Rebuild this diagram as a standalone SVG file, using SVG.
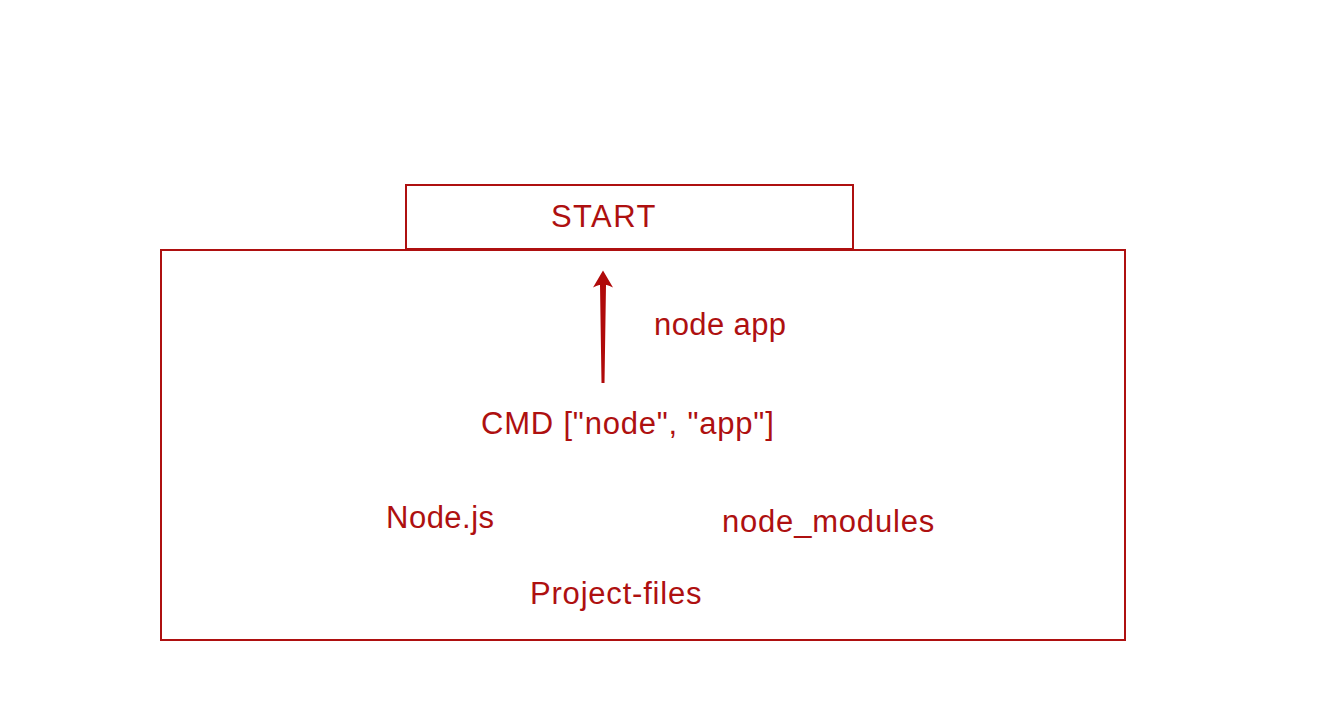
<svg xmlns="http://www.w3.org/2000/svg" width="1343" height="702" viewBox="0 0 1343 702">
<style>
.box{fill:#fff;stroke:#AE1010;stroke-width:2}
.lbl{fill:#AE1010;font-family:"Liberation Sans",Arial,sans-serif;font-size:31px;letter-spacing:0.8px}
.arr{fill:#B00A0A;stroke:none}
</style>
<rect x="0" y="0" width="1343" height="702" fill="#fff"/>
<g id="container">
<rect class="box" x="161" y="250" width="964" height="390"/>
</g>
<g id="start">
<rect class="box" x="406" y="185" width="447" height="64"/>
<text class="lbl" x="551" y="227" style="letter-spacing:1.4px">START</text>
</g>
<g id="cmd">
<text class="lbl" x="481" y="434">CMD ["node", "app"]</text>
</g>
<g id="nodejs">
<text class="lbl" x="386" y="528" style="letter-spacing:0.5px">Node.js</text>
</g>
<g id="node_modules">
<text class="lbl" x="722" y="532">node_modules</text>
</g>
<g id="project_files">
<text class="lbl" x="530" y="604">Project-files</text>
</g>
<g id="connectors">
<path class="arr" d="M603 270.5 L613 287.5 Q607.5 284.5 606 285 L604.5 383 L601.5 383 L600 285 Q598.5 284.5 593 287.5 Z"/>
<text class="lbl" x="654" y="335" style="letter-spacing:0.4px">node app</text>
</g>
</svg>
